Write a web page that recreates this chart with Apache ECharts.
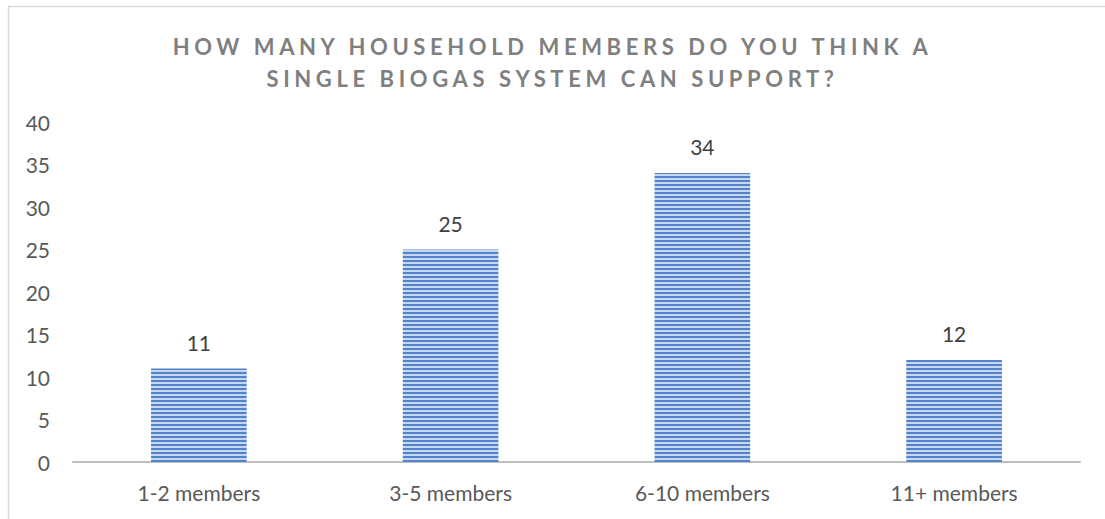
<!DOCTYPE html>
<html>
<head>
<meta charset="utf-8">
<script src="https://cdn.jsdelivr.net/npm/echarts@6/dist/echarts.min.js"></script>
<style>
html,body{margin:0;padding:0;background:#fff;}
#chart{width:1105px;height:519px;}
</style>
</head>
<body>
<div id="chart"></div>
<script>
var titleLines = ['HOW MANY HOUSEHOLD MEMBERS DO YOU THINK A', 'SINGLE BIOGAS SYSTEM CAN SUPPORT?'];
var categories = ['1-2 members', '3-5 members', '6-10 members', '11+ members'];
var values = [11, 25, 34, 12];
var yTicks = [0, 5, 10, 15, 20, 25, 30, 35, 40];

// stripe pattern for bars
var pc = document.createElement('canvas');
pc.width = 4; pc.height = 4;
var px = pc.getContext('2d');
px.fillStyle = '#5284cb'; px.fillRect(0, 0, 4, 2);
px.fillStyle = '#c6d7ef'; px.fillRect(0, 2, 4, 2);
var patternUrl = pc.toDataURL();

var chart = echarts.init(document.getElementById('chart'), null, {renderer: 'svg'});
var FONT = 'Lato, "Noto Sans", sans-serif';
chart.setOption({
  animation: false,
  backgroundColor: '#fff',
  title: {
    text: titleLines.join('\n'),
    left: 'center',
    top: 25,
    textStyle: {fontFamily: FONT, fontSize: 22, fontWeight: 'bold', color: '#7f7f7f', lineHeight: 32}
  },
  graphic: [{
    type: 'rect', silent: true,
    shape: {x: 8.5, y: 6.5, width: 1200, height: 600},
    style: {fill: 'none', stroke: '#d9d9d9', lineWidth: 1.5}
  }],
  grid: {left: 73, right: 25, top: 122, bottom: 57},
  xAxis: {
    type: 'category',
    data: categories,
    axisLine: {lineStyle: {color: '#bfbfbf', width: 2}},
    axisTick: {show: false},
    axisLabel: {fontFamily: FONT, fontSize: 21, color: '#595959', margin: 20}
  },
  yAxis: {
    type: 'value',
    min: yTicks[0], max: yTicks[yTicks.length - 1], interval: 5,
    axisLine: {show: false},
    axisTick: {show: false},
    splitLine: {show: false},
    axisLabel: {fontFamily: FONT, fontSize: 21, color: '#595959', margin: 23}
  },
  series: [{
    type: 'bar',
    data: values,
    barWidth: '38%',
    itemStyle: {color: {image: patternUrl, repeat: 'repeat'}},
    label: {show: true, position: 'top', distance: 16, fontFamily: FONT, fontSize: 21, color: '#404040'}
  }]
});

function spaceTitle() {
  var texts = document.querySelectorAll('#chart svg text');
  texts.forEach(function (t) {
    var s = (t.textContent || '').trim();
    if (titleLines.indexOf(s) >= 0) {
      t.setAttribute('letter-spacing', '4.6px');
    }
  });
}
chart.on('finished', spaceTitle);
setTimeout(spaceTitle, 50);
</script>
</body>
</html>
